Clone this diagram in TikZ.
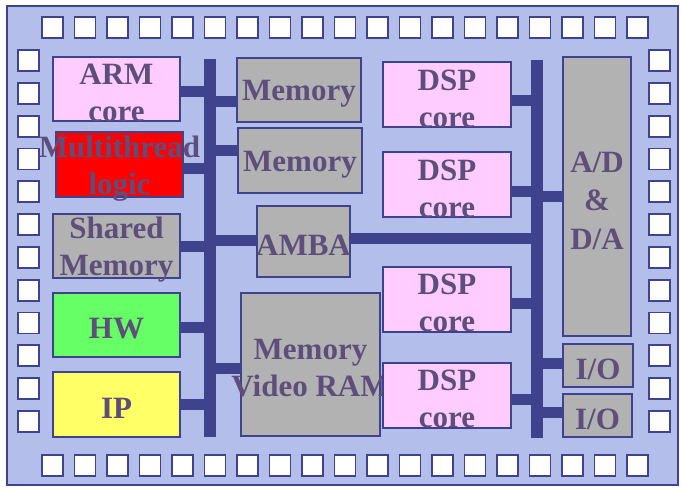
\documentclass[tikz,border=0pt]{standalone}
\usepackage{fontspec}
\setmainfont{Liberation Serif}
\usetikzlibrary{positioning}
\definecolor{chipbg}{RGB}{180,190,234}
\definecolor{chipline}{RGB}{63,66,140}
\definecolor{chiptext}{RGB}{94,78,124}
\definecolor{corepink}{RGB}{255,204,255}
\definecolor{memgray}{RGB}{178,178,178}
\definecolor{hwgreen}{RGB}{102,255,102}
\definecolor{ipyellow}{RGB}{255,255,102}

\begin{document}
\begin{tikzpicture}[x=1pt,y=-1pt,
    blk/.style={draw=chipline, line width=2pt, inner sep=0pt},
    txt/.style={text=chiptext, font=\fontsize{31}{37}\selectfont\bfseries, align=center, inner sep=0pt, yshift=-4pt},
    pin/.style={draw=chipline, fill=white, line width=1.8pt},
    bus/.style={fill=chipline, inner sep=0pt, minimum width=12pt, minimum height=378pt},
    stub/.style={draw=chipline, line width=11pt}]
    \useasboundingbox (0,0) rectangle (681,488);

    % Chip outline
    \draw[fill=chipbg, draw=chipline, line width=2pt] (7,6) rectangle (678,485);

    % Pins
    \foreach \i in {0,...,18} {
        \draw[pin] (42+32.5*\i,17) rectangle ++(21,21);
        \draw[pin] (42+32.5*\i,455) rectangle ++(21,21);
    }
    \foreach \i in {0,...,11} {
        \draw[pin] (18,50+32.8*\i) rectangle ++(21,21);
        \draw[pin] (649,50+32.8*\i) rectangle ++(21,21);
    }

    % Buses
    \node[bus] (lbus) at (210,248) {};
    \node[bus] (rbus) at (537,249) {};

    % Left column
    \node[blk, fill=corepink, minimum width=127pt, minimum height=64pt,
        label={[txt]center:ARM\\core}] (arm) at (116.5,89) {};
    \node[blk, fill=red, minimum width=127pt, minimum height=65pt,
        label={[txt]center:Multithread\\logic}] (mt) at (119.5,164.5) {};
    \node[blk, fill=memgray, minimum width=127pt, minimum height=64pt,
        label={[txt]center:Shared\\Memory}] (shared) at (116.5,246) {};
    \node[blk, fill=hwgreen, minimum width=127pt, minimum height=64pt,
        label={[txt]center:HW}] (hw) at (116.5,325) {};
    \node[blk, fill=ipyellow, minimum width=127pt, minimum height=65pt,
        label={[txt]center:IP}] (ip) at (116.5,404.5) {};

    % Middle column
    \node[blk, fill=memgray, minimum width=124pt, minimum height=64pt,
        label={[txt]center:Memory}] (mem1) at (299,90) {};
    \node[blk, fill=memgray, minimum width=124pt, minimum height=65pt,
        label={[txt]center:Memory}] (mem2) at (300,160.5) {};
    \node[blk, fill=memgray, minimum width=93pt, minimum height=71pt,
        label={[txt]center:AMBA}] (amba) at (303.5,241.5) {};
    \node[blk, fill=memgray, minimum width=139pt, minimum height=143pt,
        label={[txt]center:Memory\\Video RAM}] (vram) at (310.5,364.5) {};

    % DSP cores
    \foreach \n/\y in {dsp1/94.5, dsp2/184.5, dsp3/299, dsp4/395}
        \node[blk, fill=corepink, minimum width=128pt, minimum height=65pt,
            label={[txt]center:DSP\\core}] (\n) at (447,\y) {};

    % Right column
    \node[blk, fill=memgray, minimum width=68pt, minimum height=279pt,
        label={[txt, font=\fontsize{31}{38.5}\selectfont\bfseries]center:A/D\\\&\\D/A}] (ad) at (597,196.5) {};
    \node[blk, fill=memgray, minimum width=70pt, minimum height=43pt,
        label={[txt]center:I/O}] (io1) at (598,365.5) {};
    \node[blk, fill=memgray, minimum width=69pt, minimum height=43pt,
        label={[txt]center:I/O}] (io2) at (597.5,415.5) {};

    % Links to the left bus
    \draw[stub] ([yshift=-2pt]arm.east) -- ([yshift=-2pt]arm.east -| lbus);
    \draw[stub] ([yshift=-3.5pt]mt.east) -- ([yshift=-3.5pt]mt.east -| lbus);
    \draw[stub] (shared.east) -- (shared.east -| lbus);
    \draw[stub] ([yshift=-2.5pt]hw.east) -- ([yshift=-2.5pt]hw.east -| lbus);
    \draw[stub] (ip.east) -- (ip.east -| lbus);
    \draw[stub] ([yshift=-11.5pt]mem1.west) -- ([yshift=-11.5pt]mem1.west -| lbus);
    \draw[stub] ([yshift=10.5pt]mem2.west) -- ([yshift=10.5pt]mem2.west -| lbus);
    \draw[stub] ([yshift=1.5pt]amba.west) -- ([yshift=1.5pt]amba.west -| lbus);
    \draw[stub] ([yshift=-3.5pt]vram.west) -- ([yshift=-3.5pt]vram.west -| lbus);

    % Links to the right bus
    \draw[stub] ([yshift=3pt]amba.east) -- ([yshift=3pt]amba.east -| rbus);
    \draw[stub] ([yshift=-6pt]dsp1.east) -- ([yshift=-6pt]dsp1.east -| rbus);
    \draw[stub] ([yshift=-7pt]dsp2.east) -- ([yshift=-7pt]dsp2.east -| rbus);
    \draw[stub] ([yshift=-4.5pt]dsp3.east) -- ([yshift=-4.5pt]dsp3.east -| rbus);
    \draw[stub] ([yshift=-4.5pt]dsp4.east) -- ([yshift=-4.5pt]dsp4.east -| rbus);
    \draw[stub] (ad.west) -- (ad.west -| rbus);
    \draw[stub] ([yshift=2pt]io1.west) -- ([yshift=2pt]io1.west -| rbus);
    \draw[stub] ([yshift=3pt]io2.west) -- ([yshift=3pt]io2.west -| rbus);
\end{tikzpicture}
\end{document}
